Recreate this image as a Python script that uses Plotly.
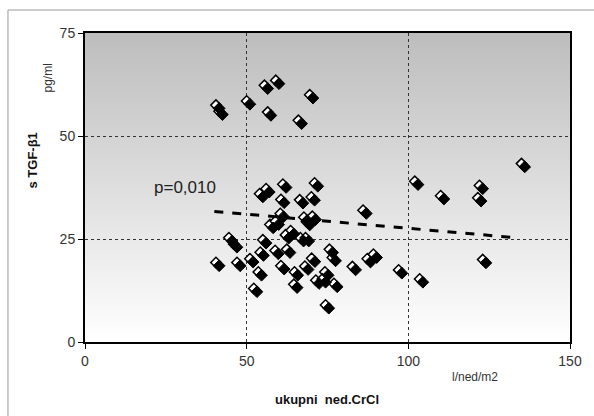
import base64
import plotly.graph_objects as go

# Data
crcl = [40.5, 41.5, 50, 55.5, 59, 56.5, 69.5, 66,
        102, 110, 122, 121.5, 135, 123, 103.5, 97, 86,
        54, 56, 61.2, 71, 60.6, 66.4, 70, 60.4, 57.2, 58.9, 67.7, 70.3, 68.5, 63.6, 62, 66.6, 68.2,
        55, 44.5, 46, 40.5, 47, 51, 53.6, 52.2, 54.2, 58.8, 62.4, 60.6, 64.8, 64.6, 68, 70.1,
        75.6, 76.5, 74.2, 71.4, 73.4, 77, 74.4, 82.7, 87.3, 89.2]
tgf = [57.5, 56, 58.5, 62.3, 63.5, 55.8, 60, 53.8,
       39, 35.5, 38, 35, 43.3, 20, 15.3, 17.5, 32,
       36, 37.2, 38.3, 38.6, 34.6, 34.5, 35.2, 31.2, 28.5, 29.3, 30.3, 30.5, 29.2, 27, 26, 25.3, 25.3,
       24.8, 25.3, 23.8, 19.3, 19.3, 20.2, 17, 13, 21.8, 22.2, 22.5, 18.5, 17, 14, 18.4, 20.3,
       22.5, 20.5, 17, 15, 15.3, 14.2, 9, 18.3, 20.2, 21.3]
trend_x = [40, 133.5]
trend_y = [31.7, 25.3]
x_ticks = [0, 50, 100, 150]
y_ticks = [0, 25, 50, 75]

FONT = "Liberation Sans, Arial, sans-serif"

fig = go.Figure()

# shadow (black) diamonds, drawn on slightly shifted overlay axes
fig.add_trace(go.Scatter(x=crcl, y=tgf, mode="markers", xaxis="x2", yaxis="y2",
                         marker=dict(symbol="diamond", size=9, color="black",
                                     line=dict(color="black", width=1)),
                         hoverinfo="skip", showlegend=False))
# white diamonds
fig.add_trace(go.Scatter(x=crcl, y=tgf, mode="markers",
                         marker=dict(symbol="diamond", size=8, color="white",
                                     line=dict(color="black", width=1.5)),
                         showlegend=False))
# trend line
fig.add_trace(go.Scatter(x=trend_x, y=trend_y, mode="lines",
                         line=dict(color="black", width=3, dash="dash"),
                         showlegend=False))

svg = ('<svg xmlns="http://www.w3.org/2000/svg" width="10" height="100" viewBox="0 0 10 100" '
       'preserveAspectRatio="none"><defs><linearGradient id="g" x1="0" y1="0" x2="0" y2="1">'
       '<stop offset="0" stop-color="#bdbdbd"/><stop offset="1" stop-color="#ffffff"/>'
       '</linearGradient></defs><rect width="10" height="100" fill="url(#g)"/></svg>')
src = "data:image/svg+xml;base64," + base64.b64encode(svg.encode()).decode()

fig.update_layout(
    width=594, height=416,
    margin=dict(l=85, r=24, t=33, b=74),
    paper_bgcolor="white", plot_bgcolor="white",
    font=dict(family=FONT, size=14, color="#333"),
    images=[dict(source=src, xref="paper", yref="paper", x=0, y=1, sizex=1, sizey=1,
                 sizing="stretch", layer="below", xanchor="left", yanchor="top")],
    xaxis=dict(range=[0, 150], tickvals=x_ticks, ticks="outside", ticklen=5, tickcolor="black",
               showline=True, linecolor="black", linewidth=2, mirror=True,
               showgrid=True, gridcolor="#333", griddash="dot", gridwidth=1,
               zeroline=False, tickfont=dict(size=14, color="#333")),
    yaxis=dict(range=[0, 75], tickvals=y_ticks, ticks="outside", ticklen=5, tickcolor="black",
               showline=True, linecolor="black", linewidth=2, mirror=True,
               showgrid=True, gridcolor="#333", griddash="dot", gridwidth=1,
               zeroline=False, tickfont=dict(size=14, color="#333")),
    xaxis2=dict(overlaying="x", range=[-1.0, 149.0], visible=False),
    yaxis2=dict(overlaying="y", range=[0.8, 75.8], visible=False),
    shapes=[
        dict(type="line", xref="paper", yref="paper", x0=-0.1588, x1=-0.1588, y0=-0.3, y1=1.0744,
             line=dict(color="#999", width=1)),
        dict(type="line", xref="paper", yref="paper", x0=-0.1588, x1=1.2, y0=1.0744, y1=1.0744,
             line=dict(color="#999", width=1)),
    ],
    annotations=[
        dict(text="p=0,010", x=31, y=37.6, xref="x", yref="y", showarrow=False,
             font=dict(size=17, color="#222")),
        dict(text="pg/ml", textangle=-90, xref="paper", yref="paper",
             x=(38 - 85) / 485, y=(342 - 62) / 309, showarrow=False,
             font=dict(size=12, color="#333")),
        dict(text="<b>s TGF-β1</b>", textangle=-90, xref="paper", yref="paper",
             x=(22 - 85) / 485, y=(342 - 160) / 309, showarrow=False,
             font=dict(size=13, color="#111")),
        dict(text="l/ned/m2", xref="paper", yref="paper",
             x=(500 - 85) / 485, y=(342 - 386) / 309, showarrow=False,
             font=dict(size=12, color="#333")),
        dict(text="<b>ukupni  ned.CrCl</b>", xref="paper", yref="paper",
             x=(327 - 85) / 485, y=(342 - 409) / 309, showarrow=False,
             font=dict(size=13, color="#111")),
    ],
)

fig.write_html("out.html")
